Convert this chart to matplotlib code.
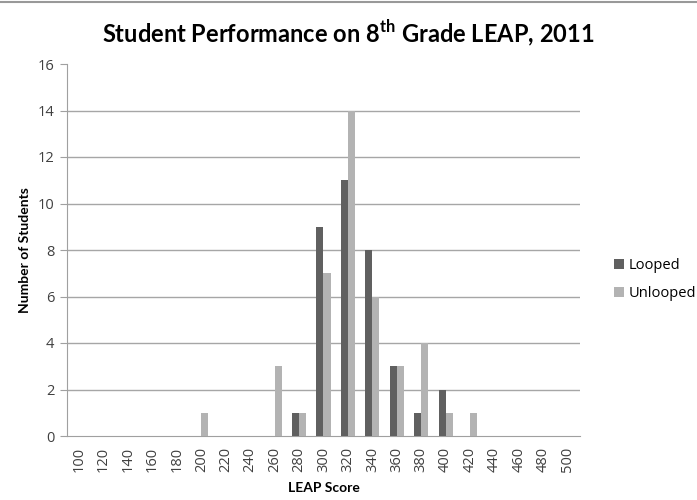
import numpy as np
import matplotlib.pyplot as plt
from matplotlib.lines import Line2D

plt.rcParams['mathtext.fontset'] = 'custom'
plt.rcParams['mathtext.rm'] = 'Lato:bold'

scores = [100, 120, 140, 160, 180, 200, 220, 240, 260, 280, 300,
          320, 340, 360, 380, 400, 420, 440, 460, 480, 500]
looped = [0, 0, 0, 0, 0, 0, 0, 0, 0, 1, 9, 11, 8, 3, 1, 2, 0, 0, 0, 0, 0]
unlooped = [0, 0, 0, 0, 0, 1, 0, 0, 3, 1, 7, 14, 6, 3, 4, 1, 1, 0, 0, 0, 0]

dark = '#606060'
light = '#b3b3b3'

fig = plt.figure(figsize=(6.97, 5), dpi=100)
ax = fig.add_axes([0.0961, 0.128, 0.736, 0.744])

x = np.arange(len(scores))
w = 0.29
ax.bar(x - w / 2, looped, w, color=dark, label='Looped', zorder=3)
ax.bar(x + w / 2, unlooped, w, color=light, label='Unlooped', zorder=3)

ax.set_xlim(-0.5, len(scores) - 0.5)
ax.set_ylim(0, 16)
ax.set_yticks(range(0, 17, 2))
ax.set_xticks(x)
ax.set_xticklabels([str(s) for s in scores], rotation=90)
for y in range(2, 16, 2):
    ax.axhline(y, color='#a6a6a6', lw=1, zorder=1)

for s in ['top', 'right']:
    ax.spines[s].set_visible(False)
for s in ['left', 'bottom']:
    ax.spines[s].set_color('#a0a0a0')
ax.tick_params(axis='y', length=5, color='#a0a0a0', labelsize=10.5, pad=4)
ax.tick_params(axis='x', length=0, labelsize=10.5, pad=8)
for t in ax.get_xticklabels() + ax.get_yticklabels():
    t.set_fontfamily('Open Sans')
    t.set_color('#404040')

ax.set_xlabel('LEAP Score', fontfamily='Lato', fontweight='bold', fontsize=10, labelpad=7)
ax.set_ylabel('Number of Students', fontfamily='Lato', fontweight='bold', fontsize=10, labelpad=5)

fig.text(0.5, 0.935, r'Student Performance on 8$^{\mathrm{th}}$ Grade LEAP, 2011',
         ha='center', va='center', fontfamily='Lato', fontweight='bold', fontsize=17)

ax.legend(loc='center left', bbox_to_anchor=(1.04, 0.42), frameon=False,
          prop={'family': 'Open Sans', 'size': 10.5}, handlelength=0.7,
          handleheight=0.7, handletextpad=0.3, labelspacing=0.9)

fig.add_artist(Line2D([0, 1], [0.997, 0.997], color='#999999', lw=1.5))

fig.savefig('out.png', dpi=100)
